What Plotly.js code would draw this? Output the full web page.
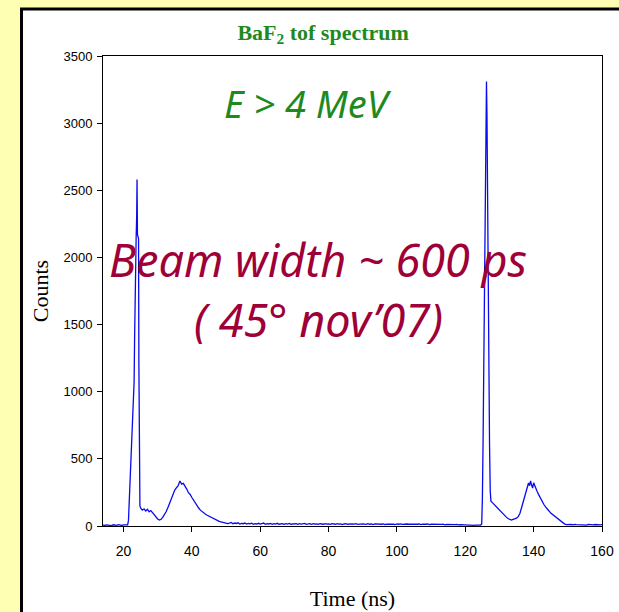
<!DOCTYPE html>
<html>
<head>
<meta charset="utf-8">
<script src="https://cdn.plot.ly/plotly-3.0.1.min.js"></script>
<style>
  html, body { margin: 0; padding: 0; background: #FFFFB4; }
  #chart { width: 619px; height: 612px; }
</style>
</head>
<body>
<div id="chart"></div>
<script>
// ---- Data (time in ns, counts per bin) ----
// baseline before first peak
const preTime   = [14,14.5,15,15.5,16,16.5,17,17.5,18,18.5,19,19.5,20,20.5,21,21.2];
const preCounts = [6,4,8,5,7,3,9,6,5,10,7,4,8,6,9,8];

// first (prompt) peak
const peak1Time   = [21.45,21.7,21.9,22.1,22.3,22.5,22.7,22.9,23.1,23.25,23.4,23.55,23.7,23.85,23.96,24.08,24.25,24.4,24.5,24.62,24.8];
const peak1Counts = [40,180,290,420,560,680,790,930,1070,1400,1780,2000,2150,2300,2580,2170,2150,2140,1200,260,150];

// tail + neutron bump after first peak
const bump1Time = [25,25.5,26,26.5,27,27.5,28,28.5,29,29.5,
                   30,30.5,31,31.5,32,32.5,33,33.5,34,34.5,
                   35,35.5,36,36.5,37,37.5,38,38.5,39,39.5,
                   40,40.5,41,41.5,42,42.5,43,43.5,44,44.5,
                   45,45.5,46,46.5,47,47.5,48,48.5,49,49.5,
                   50,50.5,51,51.5,52,52.5,53,53.5,54,54.5,
                   55];
const bump1Counts = [135,118,128,112,124,106,115,98,82,64,
                     52,44,50,66,84,108,138,172,208,240,
                     268,285,300,335,312,318,290,275,248,235,
                     212,190,172,150,134,118,106,96,88,80,
                     73,66,58,52,44,40,34,30,27,22,
                     24,18,21,26,16,22,19,24,15,20,
                     17];

// flat background between bunches
const flatTime = [55.5,56,56.5,57,57.5,58,58.5,59,59.5,60,
                  60.5,61,61.5,62,62.5,63,63.5,64,64.5,65,
                  65.5,66,66.5,67,67.5,68,68.5,69,69.5,70,
                  70.5,71,71.5,72,72.5,73,73.5,74,74.5,75,
                  75.5,76,76.5,77,77.5,78,78.5,79,79.5,80,
                  80.5,81,81.5,82,82.5,83,83.5,84,84.5,85,
                  85.5,86,86.5,87,87.5,88,88.5,89,89.5,90,
                  90.5,91,91.5,92,92.5,93,93.5,94,94.5,95,
                  95.5,96,96.5,97,97.5,98,98.5,99,99.5,100,
                  100.5,101,101.5,102,102.5,103,103.5,104,104.5,105,
                  105.5,106,106.5,107,107.5,108,108.5,109,109.5,110,
                  110.5,111,111.5,112,112.5,113,113.5,114,114.5,115,
                  115.5,116,116.5,117,117.5,118,118.5,119,119.5,120,
                  120.5,121,121.5,122,122.5,123,123.5,124,124.5,124.8];
const flatCounts = [22,14,19,16,21,13,18,15,20,14,
                    17,22,13,18,15,19,12,17,14,20,
                    13,16,18,12,17,14,19,13,16,15,
                    18,12,17,14,16,19,12,15,17,13,
                    18,14,16,12,17,15,13,18,14,16,
                    12,17,15,13,18,14,16,11,15,17,
                    13,15,12,16,14,17,12,15,13,16,
                    14,12,17,13,15,11,16,14,12,15,
                    13,16,11,14,15,12,16,13,11,15,
                    13,16,12,14,11,15,13,12,16,11,
                    14,13,15,10,14,12,13,15,10,13,
                    12,14,10,13,11,12,14,9,12,11,
                    13,9,11,10,12,8,10,9,11,8,
                    7,9,6,8,5,7,6,8,7,15];

// second (prompt) peak
const peak2Time   = [125.0,125.2,125.4,125.55,125.7,125.85,126.0,126.2,126.35,126.45,126.6,126.75,126.9,127.1,127.3,127.45];
const peak2Counts = [200,620,1065,1400,1735,2300,2800,3310,3050,2740,1735,1400,1065,600,260,195];

// tail + bump after second peak
const bump2Time = [127.5,128,128.5,129,129.5,130,130.5,131,131.5,132,
                   132.5,133,133.5,134,134.5,135,135.5,136,136.5,137,
                   137.5,138,138.5,138.8,139.1,139.4,139.7,140,140.3,140.6,
                   141,141.5,142,142.5,143,143.5,144,144.5,145,145.5,
                   146,146.5,147,147.5,148,148.5,149,149.5,150,150.5,
                   151,151.5,152,152.5,153,153.5,154,154.5,155,155.5,
                   156,156.5,157,157.5,158,158.5,159,159.5,160];
const bump2Counts = [185,172,158,146,130,118,102,88,78,66,
                     56,48,44,50,52,58,70,95,140,190,
                     240,285,320,300,335,305,282,322,298,276,
                     258,232,205,186,160,142,122,112,96,86,
                     72,68,55,45,35,26,16,10,12,9,
                     11,8,12,10,9,13,8,11,10,7,
                     12,9,10,8,11,9,12,8,10];

const xTicks = [20,40,60,80,100,120,140,160];
const yTicks = [0,500,1000,1500,2000,2500,3000,3500];

const timeNs = [].concat(preTime, peak1Time, bump1Time, flatTime, peak2Time, bump2Time);
const counts = [].concat(preCounts, peak1Counts, bump1Counts, flatCounts, peak2Counts, bump2Counts);

const trace = {
  x: timeNs, y: counts, type: 'scatter', mode: 'lines',
  line: { color: '#0A0AEE', width: 1.3 },
  hoverinfo: 'x+y'
};

const crimson = '#9E0038';
const green = '#1E8A1E';
const handFont = 'Noto Sans, DejaVu Sans, sans-serif';

const layout = {
  width: 619, height: 612,
  paper_bgcolor: '#FFFFB4',
  plot_bgcolor: 'rgba(0,0,0,0)',
  margin: { l: 103, r: 17, t: 56, b: 86, pad: 0 },
  showlegend: false,
  title: {
    text: '<b>BaF<sub>2</sub> tof spectrum</b>',
    font: { family: 'Liberation Serif, Times New Roman, serif', size: 22, color: green },
    x: 0.522, xanchor: 'center', y: 0.948, yanchor: 'middle'
  },
  xaxis: {
    range: [14, 160], tickvals: xTicks, ticks: 'outside', ticklen: 5, tickwidth: 1, tickcolor: '#000',
    showline: true, linecolor: '#000', linewidth: 1, mirror: true,
    showgrid: false, zeroline: false, ticklabelstandoff: 7,
    tickfont: { family: 'Liberation Sans, Arial, sans-serif', size: 14, color: '#000' },
    title: { text: 'Time (ns)', font: { family: 'Liberation Serif, Times New Roman, serif', size: 22, color: '#000' }, standoff: 32 }
  },
  yaxis: {
    range: [0, 3500], tickvals: yTicks, ticks: 'outside', ticklen: 5, tickwidth: 1, tickcolor: '#000',
    showline: true, linecolor: '#000', linewidth: 1, mirror: true,
    showgrid: false, zeroline: false, ticklabelstandoff: 2,
    tickfont: { family: 'Liberation Sans, Arial, sans-serif', size: 13, color: '#000' },
    title: { text: 'Counts', font: { family: 'Liberation Serif, Times New Roman, serif', size: 22, color: '#000' }, standoff: 8 }
  },
  shapes: [{
    type: 'rect', xref: 'paper', yref: 'paper', layer: 'below',
    x0: -0.1633, x1: 1.06, y0: -0.25, y1: 1.1,
    fillcolor: '#FFFFFF', line: { color: '#000', width: 3 }
  }],
  annotations: [
    { xref: 'paper', yref: 'paper', x: 0.411, y: 0.90, xanchor: 'center', yanchor: 'middle', showarrow: false,
      text: '<i>E &gt; 4 MeV</i>', font: { family: handFont, size: 38, color: green } },
    { xref: 'paper', yref: 'paper', x: 0.43, y: 0.568, xanchor: 'center', yanchor: 'middle', showarrow: false,
      text: '<i>Beam width ~ 600 ps</i>', font: { family: handFont, size: 45, color: crimson } },
    { xref: 'paper', yref: 'paper', x: 0.431, y: 0.44, xanchor: 'center', yanchor: 'middle', showarrow: false,
      text: '<i>( 45° nov’07)</i>', font: { family: handFont, size: 45, color: crimson } }
  ]
};

Plotly.newPlot('chart', [trace], layout, { displayModeBar: false, staticPlot: true });
</script>
</body>
</html>
